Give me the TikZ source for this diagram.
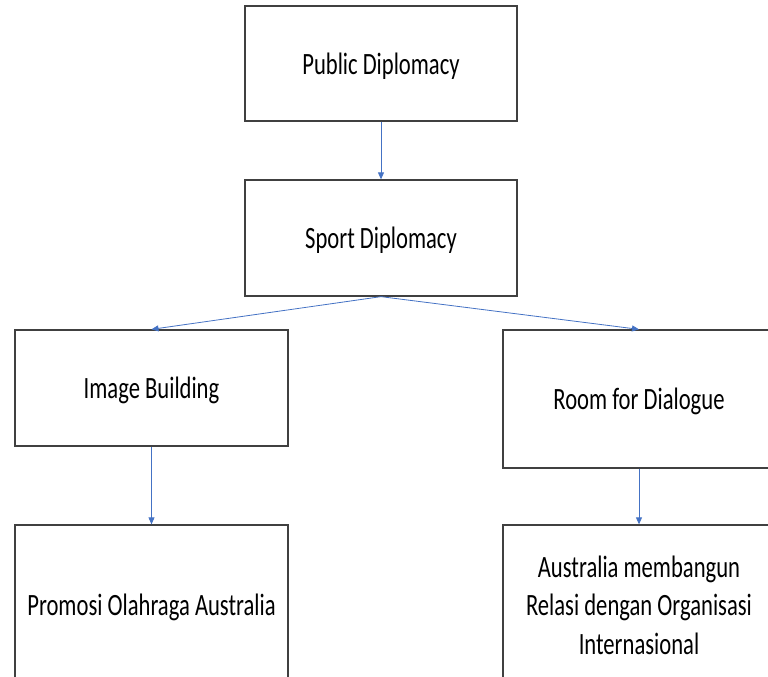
\documentclass[tikz,border=0pt]{standalone}
\usepackage{fontspec}
\newfontfamily\boxfont[FakeStretch=0.73]{Carlito}
\usetikzlibrary{arrows.meta}
\definecolor{arrblue}{HTML}{4472C4}
\definecolor{boxline}{HTML}{404040}
\tikzset{
  box/.style={draw=boxline, line width=1.3pt, fill=white, inner sep=0pt,
    align=center, font=\boxfont\fontsize{31}{38.5}\selectfont},
  oneline/.style={text depth=0pt},
  arr/.style={draw=arrblue, line width=0.8pt,
    -{Triangle[width=6pt,length=7pt]}}
}
\begin{document}
\begin{tikzpicture}[x=1pt,y=-1pt]
\path[use as bounding box] (0,0) rectangle (768,677);
\clip (0,0) rectangle (768,677);
\node[box, oneline, minimum width=272pt, minimum height=115pt] (pub) at (381,63.5) {Public Diplomacy};
\node[box, oneline, minimum width=272pt, minimum height=116pt] (sport) at (381,238) {Sport Diplomacy};
\node[box, oneline, minimum width=273pt, minimum height=116pt] (img) at (151.5,388) {Image Building};
\node[box, oneline, minimum width=272pt, minimum height=138pt] (room) at (639,399) {Room for Dialogue};
\node[box, oneline, minimum width=273pt, minimum height=160pt] (promo) at (151.5,605) {Promosi Olahraga Australia};
\node[box, minimum width=272pt, minimum height=160pt] (aus) at (639,605) {Australia membangun\\Relasi dengan Organisasi\\Internasional};
\draw[arr] (pub.south) -- (sport.north);
\draw[arr] (sport.south) -- (img.north);
\draw[arr] (sport.south) -- (room.north);
\draw[arr] (img.south) -- (promo.north);
\draw[arr] (room.south) -- (aus.north);
\end{tikzpicture}
\end{document}
